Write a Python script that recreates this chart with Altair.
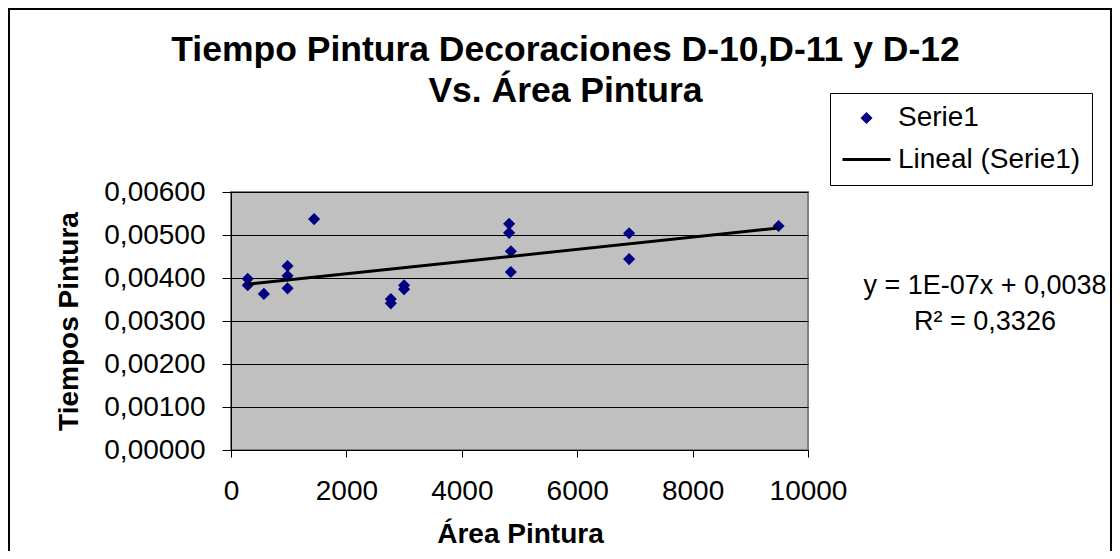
import altair as alt
import pandas as pd

# ---- data ----
area = [290, 290, 570, 980, 980, 980, 1440, 2770, 2770, 3000, 3000,
        4820, 4820, 4850, 4850, 6900, 6900, 9490]
tiempo = [0.00398, 0.00383, 0.00363, 0.00428, 0.00405, 0.00376, 0.00537,
          0.00351, 0.00341, 0.00383, 0.00374, 0.00526, 0.00505, 0.00462,
          0.00414, 0.00504, 0.00444, 0.00521]
series = ["Serie1", "Lineal (Serie1)"]
x_ticks = [0, 2000, 4000, 6000, 8000, 10000]
y_ticks = [0.0, 0.001, 0.002, 0.003, 0.004, 0.005, 0.006]
title_lines = ["Tiempo Pintura Decoraciones D-10,D-11 y D-12", "Vs. Área Pintura"]
equation = ["y = 1E-07x + 0,0038", "R\u00b2 = 0,3326"]

FONT = "Liberation Sans"
NAVY = "#000080"

df = pd.DataFrame({"area": area, "tiempo": tiempo, "serie": series[0]})

xscale = alt.Scale(domain=[0, 10000], nice=False)
yscale = alt.Scale(domain=[0, 0.006], nice=False)

x_enc = alt.X("area:Q", scale=xscale,
              axis=alt.Axis(values=x_ticks, title="Área Pintura", format="d",
                            tickSize=7, labelPadding=20,
                            titleX=289, titleY=92, titleBaseline="alphabetic",
                            titleAlign="center", grid=False))
y_enc = alt.Y("tiempo:Q", scale=yscale,
              axis=alt.Axis(values=y_ticks, title="Tiempos Pintura",
                            labelExpr="replace(format(datum.value, '.5f'), '.', ',')",
                            tickSize=9, labelPadding=17, grid=True,
                            titleX=-154, titleY=129, titleAngle=270,
                            titleBaseline="alphabetic", titleAlign="center"))

color_scale = alt.Scale(domain=series, range=[NAVY, "#000000"])

frame = alt.Chart(pd.DataFrame({"k": [0]})).mark_rect(
    fill="transparent", stroke="black", strokeWidth=2
).encode(x=alt.value(-222), x2=alt.value(880), y=alt.value(-183), y2=alt.value(420))

points = alt.Chart(df).mark_point(
    filled=True, opacity=1, stroke=NAVY, strokeWidth=3
).encode(
    x=x_enc,
    y=y_enc,
    color=alt.Color("serie:N", scale=color_scale, title=None),
    shape=alt.Shape("serie:N", scale=alt.Scale(domain=series, range=["diamond", "stroke"]), title=None),
    size=alt.Size("serie:N", scale=alt.Scale(domain=series, range=[62, 2304]), title=None),
)

trend = alt.Chart(df).transform_regression("area", "tiempo").transform_calculate(
    serie="'Lineal (Serie1)'"
).mark_line(strokeWidth=3).encode(
    x=alt.X("area:Q", scale=xscale),
    y=alt.Y("tiempo:Q", scale=yscale),
    color=alt.Color("serie:N", scale=color_scale, title=None),
)

eq_layers = []
for i, line in enumerate(equation):
    eq_layers.append(
        alt.Chart(pd.DataFrame({"t": [line]})).mark_text(
            font=FONT, fontSize=27, align="center", baseline="alphabetic", color="black"
        ).encode(text="t:N", x=alt.value(754), y=alt.value(102 + 36 * i))
    )

chart = alt.layer(frame, points, trend, *eq_layers).properties(
    width=577,
    height=258,
    autosize=alt.AutoSizeParams(type="none"),
    padding={"left": 223, "top": 184, "right": 304, "bottom": 101},
    title=alt.TitleParams(
        text=title_lines, font=FONT, fontSize=35.5, fontWeight="bold",
        color="black", anchor="middle", dx=46, dy=105, lineHeight=41,
    ),
).configure(
    background="white",
).configure_view(
    fill="#C0C0C0", stroke="#808080", strokeWidth=2,
).configure_axis(
    labelFont=FONT, labelFontSize=28, labelColor="black",
    titleFont=FONT, titleFontSize=28, titleFontWeight="bold", titleColor="black",
    domainColor="black", tickColor="black", gridColor="black", gridWidth=1,
    labelFlush=False, labelOverlap=False,
).configure_legend(
    orient="none", legendX=599, legendY=-99,
    padding=11, strokeColor="black", fillColor="white",
    labelFont=FONT, labelFontSize=28, labelColor="black", labelLimit=400,
    labelOffset=6, rowPadding=2, symbolStrokeWidth=3,
)

chart.save("out.html", embed_options={"renderer": "svg", "actions": False})
